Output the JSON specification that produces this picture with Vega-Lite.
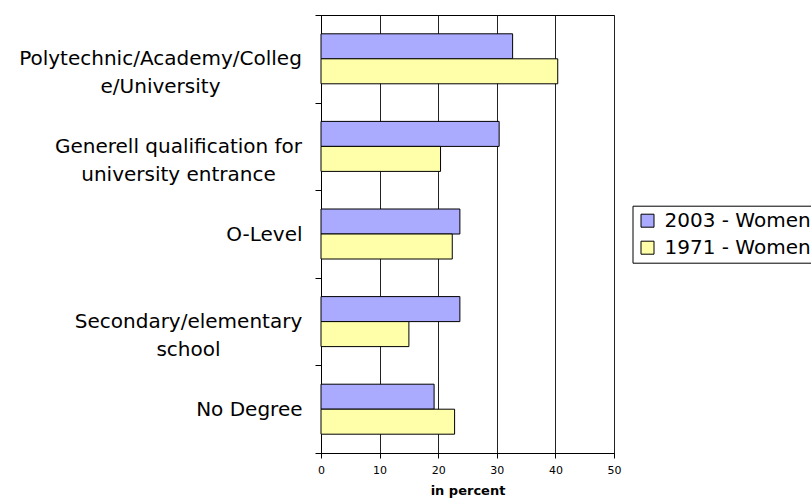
{
  "$schema": "https://vega.github.io/schema/vega-lite/v6.json",
  "autosize": {"type": "none"},
  "padding": {"left": 321, "top": 15, "right": 197, "bottom": 45},
  "width": 293,
  "height": 438,
  "background": "white",
  "config": {
    "font": "DejaVu Sans",
    "view": {"stroke": "black", "strokeWidth": 1}
  },
  "data": {
    "values": [
      {"category": "Polytechnic/Academy/College/University", "series": "2003 - Women", "value": 32.7},
      {"category": "Polytechnic/Academy/College/University", "series": "1971 - Women", "value": 40.4},
      {"category": "Generell qualification for university entrance", "series": "2003 - Women", "value": 30.4},
      {"category": "Generell qualification for university entrance", "series": "1971 - Women", "value": 20.4},
      {"category": "O-Level", "series": "2003 - Women", "value": 23.7},
      {"category": "O-Level", "series": "1971 - Women", "value": 22.4},
      {"category": "Secondary/elementary school", "series": "2003 - Women", "value": 23.7},
      {"category": "Secondary/elementary school", "series": "1971 - Women", "value": 15.0},
      {"category": "No Degree", "series": "2003 - Women", "value": 19.3},
      {"category": "No Degree", "series": "1971 - Women", "value": 22.8}
    ]
  },
  "mark": {"type": "bar", "stroke": "black", "strokeWidth": 1},
  "encoding": {
    "y": {
      "field": "category",
      "type": "nominal",
      "sort": ["Polytechnic/Academy/College/University", "Generell qualification for university entrance", "O-Level", "Secondary/elementary school", "No Degree"],
      "scale": {"paddingInner": 0, "paddingOuter": 0},
      "axis": {
        "title": null,
        "grid": false,
        "domainColor": "black",
        "tickColor": "black",
        "tickSize": 6,
        "tickBand": "extent",
        "labelFont": "DejaVu Sans",
        "labelFontSize": 20,
        "labelColor": "black",
        "labelLineHeight": 28,
        "labelBaseline": "middle",
        "labelLimit": 400,
        "labelAlign": {
          "condition": {"test": "datum.value == 'O-Level' || datum.value == 'No Degree'", "value": "right"},
          "value": "center"
        },
        "labelPadding": {
          "condition": [
            {"test": "datum.value == 'O-Level' || datum.value == 'No Degree'", "value": 13},
            {"test": "datum.value == 'Polytechnic/Academy/College/University'", "value": 155},
            {"test": "datum.value == 'Generell qualification for university entrance'", "value": 137}
          ],
          "value": 127
        },
        "labelExpr": "datum.value == 'Polytechnic/Academy/College/University' ? ['Polytechnic/Academy/Colleg', 'e/University'] : datum.value == 'Generell qualification for university entrance' ? ['Generell qualification for', 'university entrance'] : datum.value == 'Secondary/elementary school' ? ['Secondary/elementary', 'school'] : datum.value"
      }
    },
    "yOffset": {
      "field": "series",
      "type": "nominal",
      "sort": ["2003 - Women", "1971 - Women"],
      "scale": {"paddingInner": 0, "paddingOuter": 0.752}
    },
    "x": {
      "field": "value",
      "type": "quantitative",
      "scale": {"domain": [0, 50], "nice": false},
      "axis": {
        "title": "in percent",
        "titleFont": "DejaVu Sans",
        "titleFontSize": 13,
        "titleFontWeight": "bold",
        "titleColor": "black",
        "titlePadding": 9,
        "values": [0, 10, 20, 30, 40, 50],
        "grid": true,
        "gridColor": "#222222",
        "gridWidth": 1,
        "domainColor": "black",
        "tickColor": "black",
        "tickSize": 5,
        "labelPadding": 6,
        "labelFlush": false,
        "labelFont": "DejaVu Sans",
        "labelFontSize": 11,
        "labelColor": "black"
      }
    },
    "color": {
      "field": "series",
      "type": "nominal",
      "scale": {"domain": ["2003 - Women", "1971 - Women"], "range": ["#aaaaff", "#ffffaa"]},
      "legend": {
        "title": null,
        "orient": "none",
        "legendX": 311.5,
        "legendY": 190.7,
        "strokeColor": "black",
        "fillColor": "white",
        "padding": 5,
        "symbolType": "square",
        "symbolSize": 169,
        "symbolStrokeColor": "black",
        "symbolStrokeWidth": 1,
        "labelFont": "DejaVu Sans",
        "labelFontSize": 20,
        "labelColor": "black",
        "labelOffset": 7,
        "rowPadding": 7,
        "labelLimit": 300
      }
    }
  }
}
